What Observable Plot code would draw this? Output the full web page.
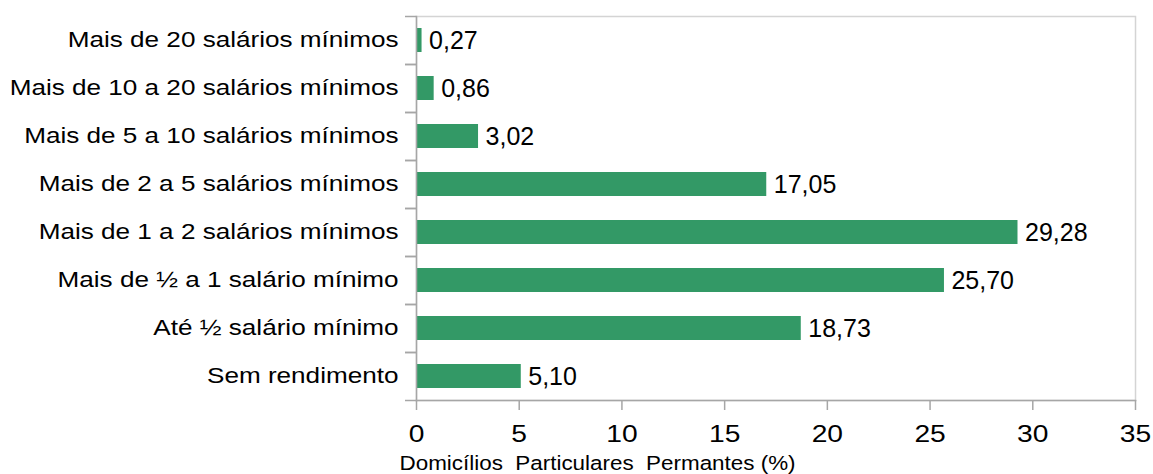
<!DOCTYPE html>
<html>
<head>
<meta charset="utf-8">
<script src="https://cdn.jsdelivr.net/npm/d3@7"></script>
<script src="https://cdn.jsdelivr.net/npm/@observablehq/plot@0.6"></script>
<style>
  html, body { margin: 0; padding: 0; background: #fff; }
  svg text { white-space: pre; }
</style>
</head>
<body>
<div id="chart"></div>
<script>
const categories = [
  "Mais de 20 salários mínimos",
  "Mais de 10 a 20 salários mínimos",
  "Mais de 5 a 10 salários mínimos",
  "Mais de 2 a 5 salários mínimos",
  "Mais de 1 a 2 salários mínimos",
  "Mais de ½ a 1 salário mínimo",
  "Até ½ salário mínimo",
  "Sem rendimento"
];
const values = [0.27, 0.86, 3.02, 17.05, 29.28, 25.70, 18.73, 5.10];
const xTicks = [0, 5, 10, 15, 20, 25, 30, 35];
const xLabel = "Domicílios  Particulares  Permantes (%)";

const data = categories.map((c, i) => ({category: c, value: values[i]}));
const fmt = v => v.toFixed(2).replace(".", ",");

const chart = Plot.plot({
  width: 1153,
  height: 474,
  marginLeft: 416,
  marginRight: 18,
  marginTop: 16,
  marginBottom: 74,
  style: {fontFamily: "'Liberation Sans', Arial, sans-serif", color: "#000", background: "#fff"},
  x: {domain: [0, 35]},
  y: {domain: categories, paddingInner: 0.5, paddingOuter: 0.25},
  marks: [
    Plot.frame({stroke: "#d4d4d4", strokeWidth: 1.5}),
    Plot.barX(data, {y: "category", x: "value", fill: "#339966"}),
    Plot.text(data, {y: "category", x: "value", text: d => fmt(d.value), textAnchor: "start", dx: 7, fontSize: 25, fill: "#000"}),
    Plot.frame({anchor: "left", stroke: "#a6a6a6", strokeWidth: 1.5}),
    Plot.frame({anchor: "bottom", stroke: "#a6a6a6", strokeWidth: 1.5}),
    Plot.axisY({tickSize: 0, tickPadding: 18, fontSize: 21.5, label: null, fill: "#000"}),
    Plot.axisY({tickSize: 11, dy: 24, tickFormat: () => "", label: null, stroke: "#a6a6a6", strokeWidth: 1.5}),
    Plot.axisY({tickSize: 11, dy: -24, tickFormat: () => "", label: null, stroke: "#a6a6a6", strokeWidth: 1.5}),
    Plot.axisX({ticks: xTicks, tickSize: 10, tickPadding: 15, fontSize: 23.5, label: null, stroke: "#a6a6a6", strokeWidth: 1.5, fill: "#000"}),
    Plot.text([xLabel], {frameAnchor: "bottom-left", dx: -17, dy: 69, textAnchor: "start", lineAnchor: "bottom", fontSize: 19.5, fill: "#000"})
  ]
});

// The reference's axis texts are horizontally stretched: widen each glyph run about its anchor.
function stretch(selector, s) {
  chart.querySelectorAll(selector).forEach(t => {
    const tr = t.getAttribute("transform") || "";
    t.setAttribute("transform", tr + ` scale(${s},1)`);
  });
}
stretch('g[aria-label="y-axis tick label"] text', 1.215);
stretch('g[aria-label="x-axis tick label"] text', 1.2);
chart.querySelectorAll("text").forEach(t => {
  if (t.textContent === xLabel) t.setAttribute("transform", (t.getAttribute("transform") || "") + " scale(1.15,1)");
});
document.getElementById("chart").appendChild(chart);
</script>
</body>
</html>
